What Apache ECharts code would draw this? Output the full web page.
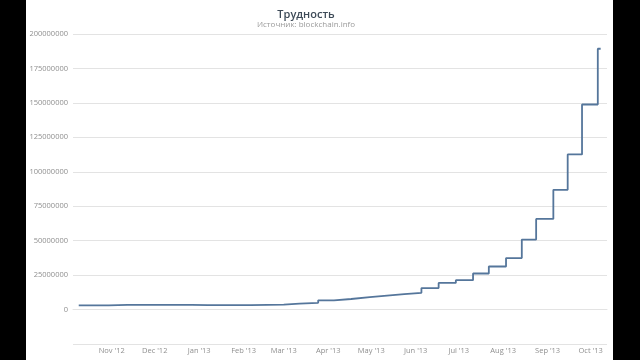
<!DOCTYPE html>
<html>
<head>
<meta charset="utf-8">
<script src="https://cdn.jsdelivr.net/npm/echarts@6/dist/echarts.min.js"></script>
<style>
  html, body { margin: 0; padding: 0; background: #000; width: 640px; height: 360px; overflow: hidden; }
  #chart { position: absolute; left: 26px; top: 0; width: 587px; height: 360px; background: #fff; }
</style>
</head>
<body>
<div id="chart"></div>
<script>
// Data
const titleText = 'Трудность';
const subtitleText = 'Источник: blockchain.info';
const monthNames = ['Jan','Feb','Mar','Apr','May','Jun','Jul','Aug','Sep','Oct','Nov','Dec'];

const dates = [
  '2012-10-09', '2012-10-30', '2012-11-12', '2012-11-27', '2012-12-27',
  '2013-01-07', '2013-01-23', '2013-02-06', '2013-03-01', '2013-03-12',
  '2013-03-25', '2013-04-05', '2013-04-17', '2013-04-30', '2013-05-12',
  '2013-05-24', '2013-06-05', '2013-06-17', '2013-06-29', '2013-07-11',
  '2013-07-22', '2013-08-03', '2013-08-14', '2013-08-24', '2013-09-05',
  '2013-09-15', '2013-09-25', '2013-10-06', '2013-10-08'
];
const difficulty = [
  3000000, 3370000, 3440000, 3370000, 3250000,
  3280000, 3200000, 3650000, 4370000, 4850000,
  6700000, 7670000, 8970000, 10080000, 11190000,
  12150000, 15610000, 19340000, 21340000, 26160000,
  31260000, 37390000, 50810000, 65750000, 86930000,
  112630000, 148820000, 189280000, 189280000
];

const yMin = -25000000, yMax = 200000000, yInterval = 25000000;
const xMin = '2012-10-05 00:00', xMax = '2013-10-12 10:00';

const seriesData = dates.map((d, i) => [d, difficulty[i]]);

const chart = echarts.init(document.getElementById('chart'), null, { renderer: 'canvas' });
chart.setOption({
  animation: false,
  backgroundColor: '#fff',
  title: {
    text: titleText,
    subtext: subtitleText,
    left: 275,
    textAlign: 'center',
    top: 4,
    itemGap: 1,
    textStyle: { fontFamily: 'Open Sans', fontSize: 11, fontWeight: 600, color: '#3d4a57' },
    subtextStyle: { fontFamily: 'Open Sans', fontSize: 8, color: '#9a9a9a' }
  },
  grid: { left: 47, right: 6, top: 34, bottom: 16, containLabel: false },
  xAxis: {
    type: 'time',
    min: xMin,
    max: xMax,
    minInterval: 28 * 86400000,
    maxInterval: 31 * 86400000,
    axisLine: { show: true, lineStyle: { color: '#e3e3e3', width: 1 } },
    axisTick: { show: false },
    splitLine: { show: false },
    axisLabel: {
      margin: 3,
      fontFamily: 'Open Sans',
      fontSize: 7.5,
      color: '#8f8f8f',
      formatter: function (v) {
        const d = new Date(v);
        return monthNames[d.getMonth()] + " '" + String(d.getFullYear()).slice(2);
      }
    }
  },
  yAxis: {
    type: 'value',
    min: yMin,
    max: yMax,
    interval: yInterval,
    axisLine: { show: false },
    axisTick: { show: false },
    splitLine: { show: true, lineStyle: { color: '#e3e3e3', width: 1 } },
    axisLabel: {
      margin: 5,
      fontFamily: 'Open Sans',
      fontSize: 7.5,
      color: '#8f8f8f',
      formatter: function (v) { return v < 0 ? '' : String(v); }
    }
  },
  series: [{
    type: 'line',
    step: 'end',
    data: seriesData,
    showSymbol: false,
    lineStyle: { color: '#55769b', width: 1.8 },
    itemStyle: { color: '#55769b' }
  }]
});
</script>
</body>
</html>
